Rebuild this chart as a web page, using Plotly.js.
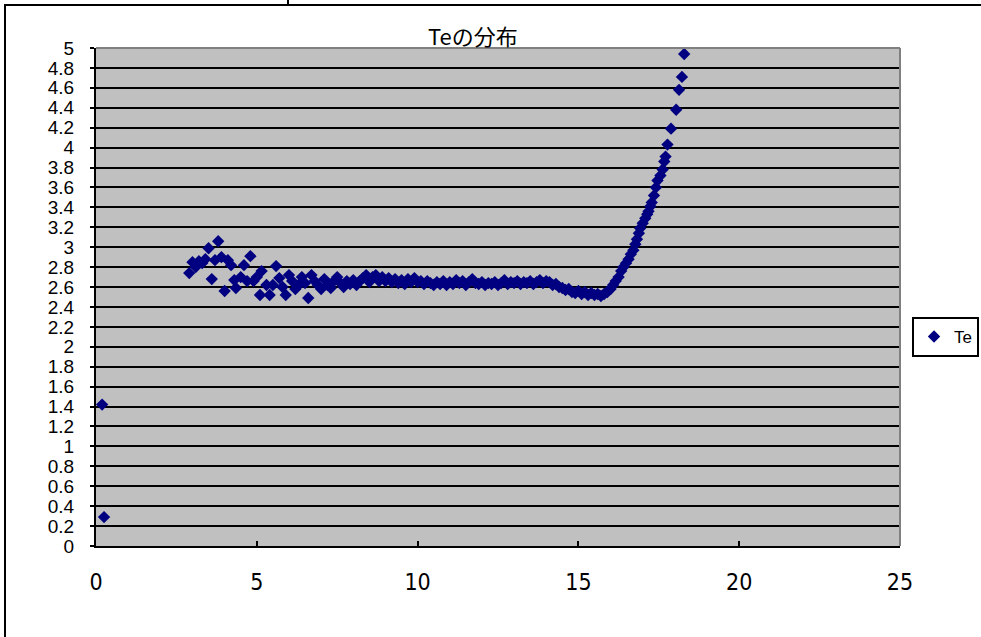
<!DOCTYPE html>
<html>
<head>
<meta charset="utf-8">
<script src="https://cdn.plot.ly/plotly-3.0.1.min.js"></script>
<style>
html,body{margin:0;padding:0;background:#fff;overflow:hidden;width:981px;height:637px;}
#chart{position:absolute;left:0;top:0;width:981px;height:637px;}
#ftop{position:absolute;left:4px;top:4px;width:977px;height:2px;background:#000;z-index:5;}
#fleft{position:absolute;left:4px;top:4px;width:2px;height:633px;background:#000;z-index:5;}
#notch{position:absolute;left:287px;top:0;width:2px;height:5px;background:#000;z-index:5;}
</style>
</head>
<body>
<div id="chart"></div>
<div id="ftop"></div>
<div id="fleft"></div>
<div id="notch"></div>
<script>
const chartTitle = "Teの分布";
const seriesName = "Te";
const xValues = [
  0.19, 0.25,
  2.9, 3.0, 3.1, 3.2, 3.3, 3.4, 3.5, 3.6, 3.7, 3.8, 3.9, 4.0, 4.1, 4.2, 4.3, 4.35, 4.5, 4.6, 4.7, 4.8, 4.9,
  5.0, 5.1, 5.15, 5.3, 5.4, 5.5, 5.6, 5.7, 5.8, 5.9, 6.0, 6.1, 6.2, 6.3, 6.4, 6.5, 6.6, 6.7, 6.8, 6.9,
  7.0, 7.1, 7.2, 7.3, 7.4, 7.5, 7.6, 7.7, 7.8, 7.9, 8.0, 8.1, 8.2, 8.3, 8.4, 8.5, 8.6, 8.7, 8.8, 8.9,
  9.0, 9.1, 9.2, 9.3, 9.4, 9.5, 9.6, 9.7, 9.8, 9.9, 10.0, 10.1, 10.2, 10.3, 10.4, 10.5, 10.6, 10.7, 10.8, 10.9,
  11.0, 11.1, 11.2, 11.3, 11.4, 11.5, 11.6, 11.7, 11.8, 11.9, 12.0, 12.1, 12.2, 12.3, 12.4, 12.5, 12.6, 12.7, 12.8, 12.9,
  13.0, 13.1, 13.2, 13.3, 13.4, 13.5, 13.6, 13.7, 13.8, 13.9, 14.0, 14.1, 14.2, 14.3, 14.4, 14.5, 14.6, 14.7, 14.8, 14.9,
  15.0, 15.1, 15.2, 15.3, 15.4, 15.5, 15.6, 15.7, 15.8, 15.9, 16.0, 16.08, 16.16, 16.25, 16.33, 16.40, 16.48, 16.56, 16.63, 16.71,
  16.77, 16.82, 16.88, 16.92, 17.0, 17.08, 17.14, 17.18, 17.24, 17.28, 17.35, 17.41, 17.46, 17.55, 17.62, 17.67, 17.71, 17.77, 17.88,
  18.04, 18.13, 18.22, 18.29
];
const teValues = [
  1.42, 0.29,
  2.74, 2.85, 2.80, 2.86, 2.84, 2.88, 2.99, 2.68, 2.87, 3.06, 2.90, 2.56, 2.87, 2.82, 2.67, 2.59, 2.70, 2.82, 2.66, 2.91, 2.66,
  2.70, 2.52, 2.76, 2.62, 2.52, 2.62, 2.81, 2.69, 2.60, 2.52, 2.72, 2.66, 2.58, 2.62, 2.70, 2.64, 2.49, 2.72, 2.66, 2.62,
  2.58, 2.68, 2.62, 2.59, 2.66, 2.70, 2.64, 2.60, 2.66, 2.63, 2.67, 2.62, 2.66, 2.69, 2.72, 2.65, 2.70, 2.72, 2.66, 2.70,
  2.66, 2.69, 2.65, 2.68, 2.64, 2.67, 2.63, 2.68, 2.65, 2.69, 2.65, 2.66, 2.63, 2.66, 2.64, 2.62, 2.65, 2.63, 2.66, 2.62,
  2.65, 2.63, 2.67, 2.64, 2.66, 2.62, 2.65, 2.68, 2.64, 2.63, 2.65, 2.62, 2.64, 2.63, 2.65, 2.62, 2.64, 2.67, 2.63, 2.65,
  2.64, 2.66, 2.63, 2.65, 2.64, 2.66, 2.63, 2.65, 2.67, 2.64, 2.66, 2.65, 2.62, 2.63, 2.60, 2.59, 2.57, 2.58, 2.55, 2.54,
  2.56, 2.53, 2.55, 2.52, 2.54, 2.52, 2.53, 2.51, 2.53, 2.55, 2.58, 2.62, 2.66, 2.70, 2.76, 2.80, 2.84, 2.88, 2.93, 2.97,
  3.03, 3.08, 3.14, 3.19, 3.24, 3.29, 3.33, 3.36, 3.41, 3.45, 3.52, 3.60, 3.67, 3.72, 3.78, 3.86, 3.91, 4.03, 4.19,
  4.38, 4.58, 4.71, 4.94
];
const xTickVals = [0, 5, 10, 15, 20, 25];
const yTickVals = [0, 0.2, 0.4, 0.6, 0.8, 1, 1.2, 1.4, 1.6, 1.8, 2, 2.2, 2.4, 2.6, 2.8, 3, 3.2, 3.4, 3.6, 3.8, 4, 4.2, 4.4, 4.6, 4.8, 5];
const yTickText = ["0", "0.2", "0.4", "0.6", "0.8", "1", "1.2", "1.4", "1.6", "1.8", "2", "2.2", "2.4", "2.6", "2.8", "3", "3.2", "3.4", "3.6", "3.8", "4", "4.2", "4.4", "4.6", "4.8", "5"];

const trace = {
  x: xValues, y: teValues, type: 'scatter', mode: 'markers', name: seriesName,
  marker: {symbol: 'diamond', size: 9.5, color: '#000080', line: {width: 0}},
  cliponaxis: false, showlegend: true
};
const layout = {
  width: 981, height: 637,
  margin: {l: 96, r: 81, t: 48, b: 91, pad: 0, autoexpand: false},
  paper_bgcolor: 'rgba(0,0,0,0)',
  plot_bgcolor: '#C0C0C0',
  title: {text: chartTitle, x: 0.482, xref: 'container', xanchor: 'center', y: 0.942, yref: 'container', yanchor: 'middle',
    font: {family: 'Noto Sans CJK JP, Liberation Sans, sans-serif', size: 22, color: '#000'}},
  xaxis: {range: [0, 25], tickvals: xTickVals, ticks: 'inside', ticklen: 5, tickwidth: 2, tickcolor: '#000',
    showline: true, linecolor: '#000', linewidth: 2, showgrid: false, zeroline: false, automargin: false,
    ticklabelstandoff: 14,
    tickfont: {family: 'Liberation Sans Narrow, DejaVu Sans Condensed, Liberation Sans, sans-serif', size: 23, color: '#000'}},
  yaxis: {range: [0, 5], tickvals: yTickVals, ticktext: yTickText, ticks: 'outside', ticklen: 4, tickwidth: 2, tickcolor: '#000',
    showline: true, linecolor: '#000', linewidth: 2, showgrid: true, gridcolor: '#000', gridwidth: 2, zeroline: false, automargin: false,
    ticklabelstandoff: 12,
    tickfont: {family: 'Liberation Sans, sans-serif', size: 19, color: '#000'}},
  showlegend: true,
  legend: {xref: 'container', yref: 'container', x: 0.9297, xanchor: 'left', y: 0.5024, yanchor: 'top',
    bgcolor: '#fff', bordercolor: '#000', borderwidth: 2,
    itemwidth: 30, font: {family: 'Liberation Sans, sans-serif', size: 17, color: '#000'}},
  shapes: [
    {type: 'line', xref: 'paper', yref: 'paper', x0: 0, x1: 1, y0: 1, y1: 1, line: {color: '#808080', width: 2}, layer: 'above'},
    {type: 'line', xref: 'paper', yref: 'paper', x0: 1, x1: 1, y0: 0, y1: 1, line: {color: '#808080', width: 2}, layer: 'above'}
  ]
};
Plotly.newPlot('chart', [trace], layout, {displayModeBar: false, staticPlot: true});
</script>
</body>
</html>
